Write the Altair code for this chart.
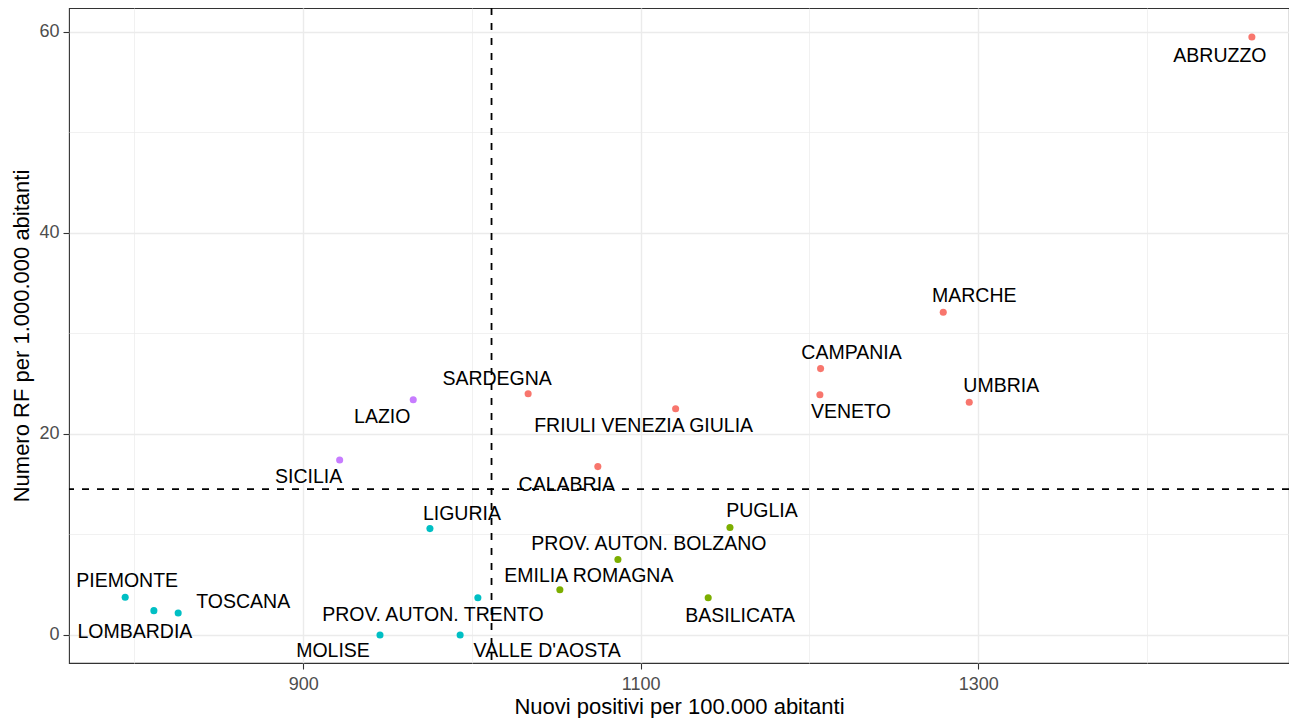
import altair as alt
import pandas as pd

regions = ["ABRUZZO", "MARCHE", "CAMPANIA", "VENETO", "UMBRIA", "FRIULI VENEZIA GIULIA",
           "SARDEGNA", "CALABRIA", "LAZIO", "SICILIA", "LIGURIA", "PIEMONTE", "LOMBARDIA",
           "TOSCANA", "MOLISE", "PROV. AUTON. TRENTO", "VALLE D'AOSTA", "EMILIA ROMAGNA",
           "PROV. AUTON. BOLZANO", "BASILICATA", "PUGLIA"]
positivi = [1462.2, 1279.3, 1206.6, 1206.2, 1294.7, 1120.7,
            1033.3, 1074.6, 965.2, 921.6, 975.1, 794.5, 811.5,
            825.9, 945.5, 1003.5, 993.0, 1052.1,
            1086.5, 1140.0, 1152.9]
rf = [59.5, 32.1, 26.5, 23.9, 23.15, 22.5,
      24.0, 16.75, 23.4, 17.4, 10.58, 3.75, 2.42,
      2.19, 0.0, 3.7, 0.0, 4.5,
      7.5, 3.7, 10.7]
gruppo = ["A", "A", "A", "A", "A", "A",
          "A", "A", "D", "D", "C", "C", "C",
          "C", "C", "C", "C", "B",
          "B", "B", "B"]
group_domain = ["A", "B", "C", "D"]
group_colors = ["#F8766D", "#7CAE00", "#00BFC4", "#C77CFF"]

ref_x = [1011.6]
ref_y = [14.5]

# label offsets (pixels, relative to the point), mimicking ggrepel placement
label_offsets = {
    "ABRUZZO": (-32, 19), "MARCHE": (31, -16), "CAMPANIA": (31, -16), "VENETO": (31, 17),
    "UMBRIA": (32, -16), "FRIULI VENEZIA GIULIA": (-32, 17), "SARDEGNA": (-31, -15),
    "CALABRIA": (-31, 18), "LAZIO": (-31, 17), "SICILIA": (-31, 17), "LIGURIA": (32, -15),
    "PIEMONTE": (2, -16), "LOMBARDIA": (-19, 21), "TOSCANA": (65, -11), "MOLISE": (-47, 16),
    "PROV. AUTON. TRENTO": (-45, 17), "VALLE D'AOSTA": (87, 16), "EMILIA ROMAGNA": (29, -14),
    "PROV. AUTON. BOLZANO": (31, -16), "BASILICATA": (32, 18), "PUGLIA": (32, -16),
}

df = pd.DataFrame({"regione": regions, "positivi": positivi, "rf": rf, "gruppo": gruppo})

FONT = "Liberation Sans"
xscale = alt.Scale(domain=[761.2, 1484.2], nice=False, zero=False)
yscale = alt.Scale(domain=[-2.79, 62.38], nice=False, zero=False)

x_axis = alt.Axis(
    values=[800, 900, 1000, 1100, 1200, 1300, 1400],
    format="d",
    labelExpr="datum.value % 200 == 100 ? datum.label : ''",
    title="Nuovi positivi per 100.000 abitanti",
    domain=False,
    gridColor="#EBEBEB",
    gridWidth={"condition": {"test": "datum.value % 200 == 100", "value": 1.4}, "value": 0.7},
    tickOpacity={"condition": {"test": "datum.value % 200 == 100", "value": 1}, "value": 0},
    tickColor="#333333", tickSize=6, tickWidth=1.1,
    labelFont=FONT, labelFontSize=18, labelColor="#4D4D4D", labelPadding=6,
    titleFont=FONT, titleFontSize=22, titleFontWeight="normal", titleColor="#000000",
    titlePadding=3,
)
y_axis = alt.Axis(
    values=[0, 10, 20, 30, 40, 50, 60],
    labelExpr="datum.value % 20 == 0 ? datum.label : ''",
    title="Numero RF per 1.000.000 abitanti",
    domain=False,
    gridColor="#EBEBEB",
    gridWidth={"condition": {"test": "datum.value % 20 == 0", "value": 1.4}, "value": 0.7},
    tickOpacity={"condition": {"test": "datum.value % 20 == 0", "value": 1}, "value": 0},
    tickColor="#333333", tickSize=6, tickWidth=1.1,
    labelFont=FONT, labelFontSize=18, labelColor="#4D4D4D", labelPadding=4,
    titleFont=FONT, titleFontSize=22, titleFontWeight="normal", titleColor="#000000",
    titlePadding=5,
)

base = alt.Chart(df)

points = base.mark_circle(size=50, opacity=1).encode(
    x=alt.X("positivi:Q", scale=xscale, axis=x_axis),
    y=alt.Y("rf:Q", scale=yscale, axis=y_axis),
    color=alt.Color("gruppo:N", scale=alt.Scale(domain=group_domain, range=group_colors), legend=None),
)

vline = alt.Chart(pd.DataFrame({"v": ref_x})).mark_rule(
    color="black", strokeDash=[7, 8], strokeWidth=1.8
).encode(x=alt.X("v:Q", scale=xscale))
hline = alt.Chart(pd.DataFrame({"h": ref_y})).mark_rule(
    color="black", strokeDash=[7, 8], strokeWidth=1.8
).encode(y=alt.Y("h:Q", scale=yscale))

labels = []
for name in regions:
    dx, dy = label_offsets[name]
    labels.append(
        base.transform_filter(alt.datum.regione == name).mark_text(
            font=FONT, fontSize=19.5, color="black", dx=dx, dy=dy,
            align="center", baseline="middle"
        ).encode(
            x=alt.X("positivi:Q", scale=xscale),
            y=alt.Y("rf:Q", scale=yscale),
            text="regione:N",
        )
    )

chart = alt.layer(vline, hline, points, *labels).properties(
    width=1220, height=655,
    autosize=alt.AutoSizeParams(type="none"),
    padding={"left": 61, "top": 0, "right": 0, "bottom": 55},
    background="white",
).configure_view(stroke="#333333", strokeWidth=1.1)

chart.save("out.html", embed_options={"renderer": "svg", "actions": False})
